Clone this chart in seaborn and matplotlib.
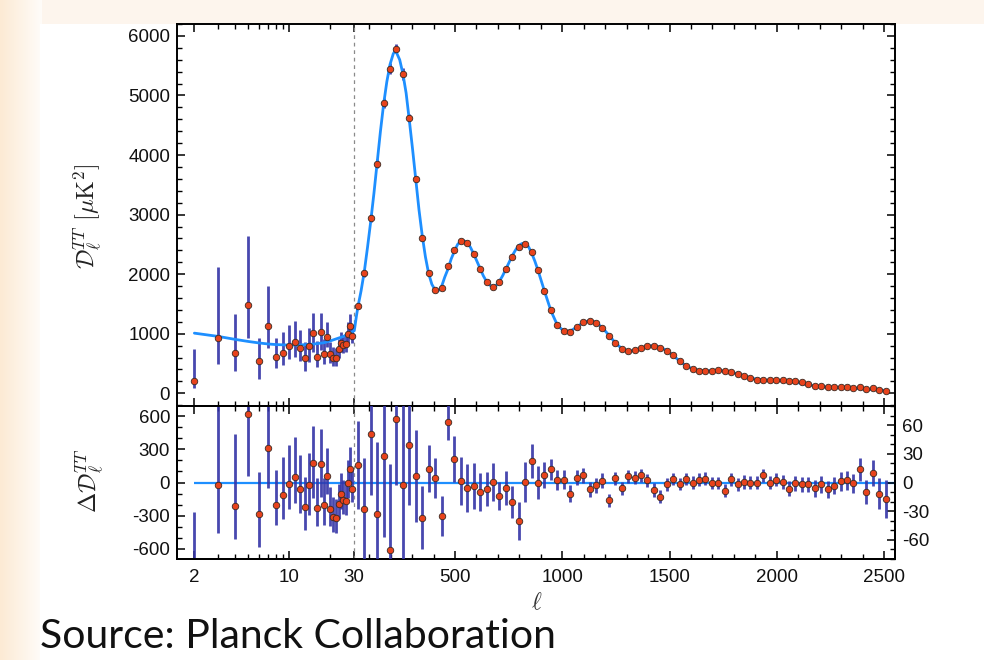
import numpy as np
import matplotlib
matplotlib.use("Agg")
import matplotlib.pyplot as plt
from matplotlib.patches import Rectangle
from matplotlib.ticker import FixedLocator, MultipleLocator
import seaborn as sns

# ---------------- data ----------------
# low-ell individual multipoles
ell_low = [2, 3, 4, 5, 6, 7, 8, 9, 10, 11, 12, 13, 14, 15, 16, 17, 18, 19,
           20, 21, 22, 23, 24, 25, 26, 27, 28, 29]
dl_low = [212, 923, 677, 1483, 542, 1136, 604, 682, 794, 856, 756, 588, 800,
          1013, 610, 1029, 665, 945, 655, 593, 593, 739, 839, 806, 823, 991,
          1136, 967]
err_low_minus = [128, 436, 297, 560, 300, 370, 184, 212, 223, 241, 214, 208,
                 269, 314, 163, 302, 180, 170, 150, 140, 140, 140, 140, 130,
                 130, 140, 140, 120]
err_low_plus = [532, 1203, 655, 1158, 380, 666, 319, 347, 353, 363, 307, 273,
                291, 341, 274, 319, 240, 250, 200, 180, 170, 180, 190, 180,
                180, 200, 200, 180]
res_low = [-798, -27, -217, 620, -287, 317, -202, -118, -15, 52, -60, -227,
           -27, 176, -232, 167, -202, 61, -245, -311, -323, -196, -105, -160,
           -166, 0, 124, -57]

# high-ell binned data (bin width 30)
ell_high = [47, 77, 107, 137, 167, 197, 227, 257, 287, 317, 347, 377, 407,
            437, 467, 497, 527, 557, 587, 617, 647, 677, 707, 737, 767, 797,
            827, 857, 887, 917, 947, 977, 1007, 1037, 1067, 1097, 1127, 1157,
            1187, 1217, 1247, 1277, 1307, 1337, 1367, 1397, 1427, 1457, 1487,
            1517, 1547, 1577, 1607, 1637, 1667, 1697, 1727, 1757, 1787, 1817,
            1847, 1877, 1907, 1937, 1967, 1997, 2027, 2057, 2087, 2117, 2147,
            2177, 2207, 2237, 2267, 2297, 2327, 2357, 2387, 2417, 2447, 2477,
            2507]
dl_high = [1466, 2015, 2939, 3851, 4880, 5451, 5787, 5362, 4618, 3593, 2613,
           2015, 1735, 1773, 2143, 2406, 2557, 2529, 2339, 2082, 1869, 1790,
           1869, 2082, 2294, 2450, 2510, 2378, 2062, 1723, 1399, 1147, 1046,
           1035, 1118, 1197, 1214, 1186, 1102, 957, 850, 744, 716, 722, 766,
           800, 800, 766, 716, 638, 537, 458, 403, 380, 380, 380, 386, 369,
           358, 324, 285, 252, 229, 229, 218, 218, 218, 207, 202, 185, 156,
           128, 118, 101, 101, 101, 101, 94, 106, 72, 84, 55, 39]
res_high = [18.2, -28.1, 50.8, -33.4, 28, -71.3, 66.6, -2.5, 39.3, 6.9, -36.9,
            14.7, 4.9, -34.8, 63.8, 24.5, 1.7, -6, -3.5, -9.8, -6.7, 0.3,
            -14.1, -6, -20.5, -40.5, 0.9, 22.8, 0, 7.7, 14, 2.4, 3.1, -12,
            5.1, 7.5, -7, -2.9, 2, -18.6, 4.5, -6, 6.6, 5, 7.5, 2.4, -8, -15,
            -2, 3.4, -1.9, 3.4, 0, 3, 4.1, -0.3, -0.3, -8.7, 3.4, -1.9, 0.6,
            -0.3, -0.3, 7.7, -0.3, 3.1, 0.6, -6.7, -1, -2, -2, -6.3, -2, -7,
            -3.5, 1.4, 2.4, -1, 14, -9.8, 10, -11.6, -17.5]
err_high = [46, 54, 64, 76, 85, 91, 69, 95, 63, 48, 33, 25, 21, 21, 19, 24,
            25, 25, 24, 20, 18, 20, 15, 18, 17, 20, 21, 18, 17, 14, 11, 10.5,
            10, 9, 8, 8, 8, 8, 8, 7, 7, 7, 7, 7, 7, 7, 7, 7, 6.5, 6.5, 6.5,
            6.5, 6.5, 6.5, 6.5, 6.5, 6.5, 7, 7, 7, 7, 7, 7, 7, 7, 7, 7, 8, 8,
            8, 8, 9, 9, 9, 9, 10, 10, 10, 12, 12.5, 14, 16, 20]

# best-fit theory curve
ell_th = [2, 3, 4, 5, 6, 7, 8, 10, 12, 15, 18, 20, 25, 30, 32, 40, 47, 62,
          77, 92, 107, 122, 137, 152, 167, 182, 197, 212, 220, 227, 242, 257,
          272, 287, 302, 317, 332, 347, 362, 377, 392, 407, 422, 437, 452,
          467, 482, 497, 512, 527, 542, 557, 572, 587, 602, 617, 632, 647,
          662, 677, 692, 707, 722, 737, 752, 767, 782, 797, 812, 827, 842,
          857, 872, 887, 917, 947, 977, 1007, 1037, 1067, 1097, 1127, 1157,
          1187, 1217, 1247, 1277, 1307, 1337, 1367, 1397, 1427, 1457, 1487,
          1517, 1547, 1577, 1607, 1637, 1667, 1697, 1727, 1757, 1787, 1817,
          1847, 1877, 1907, 1937, 1967, 1997, 2027, 2057, 2087, 2117, 2147,
          2177, 2207, 2237, 2267, 2297, 2327, 2357, 2387, 2417, 2447, 2477,
          2507]
dl_th = [1010, 955, 905, 870, 845, 828, 818, 810, 812, 826, 850, 880, 955,
         1050, 1090, 1290, 1448, 1720, 2043, 2450, 2888, 3360, 3884, 4390,
         4852, 5230, 5522, 5700, 5745, 5720, 5600, 5365, 5040, 4580, 4100,
         3586, 3080, 2650, 2290, 2010, 1830, 1735, 1722, 1790, 1950, 2085,
         2255, 2385, 2500, 2555, 2560, 2530, 2450, 2340, 2218, 2092, 1972,
         1876, 1815, 1790, 1812, 1880, 1975, 2085, 2200, 2312, 2405, 2480,
         2515, 2505, 2465, 2355, 2220, 2062, 1715, 1385, 1145, 1043, 1045,
         1110, 1190, 1222, 1192, 1100, 978, 848, 752, 712, 717, 758, 792,
         800, 775, 718, 636, 540, 462, 410, 385, 378, 380, 383, 375, 355,
         325, 290, 258, 236, 222, 217, 214, 209, 200, 185, 165, 143, 125,
         112, 104, 100, 96, 92, 86, 78, 70, 62, 55, 48]

x_major = [2, 10, 30, 500, 1000, 1500, 2000, 2500]
x_minor = [3, 4, 5, 6, 7, 8, 9, 20] + [100, 200, 300, 400] + \
          [600, 700, 800, 900, 1100, 1200, 1300, 1400, 1600, 1700, 1800,
           1900, 2100, 2200, 2300, 2400]

# ---------------- styling ----------------
RED = "#e8431c"
EDGE = "#3b2a22"
BAR = "#3434a6"
BLUE = "#1e8fff"

sns.set_theme(style="white")
plt.rcParams["font.family"] = ["Liberation Sans", "DejaVu Sans"]
plt.rcParams["mathtext.fontset"] = "cm"
plt.rcParams["axes.unicode_minus"] = False

fig = plt.figure(figsize=(9.84, 6.6), dpi=100)
fig.patch.set_facecolor("#fdf5ed")

# left peach gradient strip + white panel
gax = fig.add_axes([0, 0, 42 / 984, 1], zorder=-5)
grad = np.linspace(0, 1, 64)[None, :]
c0 = np.array([252, 234, 212]) / 255
c1 = np.array([255, 252, 249]) / 255
img = c0[None, None, :] * (1 - grad[..., None]) + c1[None, None, :] * grad[..., None]
gax.imshow(img, aspect="auto", extent=[0, 1, 0, 1])
gax.set_axis_off()
fig.patches.append(Rectangle((40 / 984, 0), 1, 636 / 660, transform=fig.transFigure,
                             facecolor="white", edgecolor="none", zorder=-4))


# hybrid log / linear ell axis
K_LOG = 135.9
K_LIN = 0.2145


def fwd(l):
    l = np.asarray(l, dtype=float)
    lc = np.clip(l, 1e-6, None)
    return np.where(l < 30, K_LOG * np.log10(lc / 30.0), K_LIN * (l - 30.0))


def inv(u):
    u = np.asarray(u, dtype=float)
    return np.where(u < 0, 30.0 * 10 ** (np.clip(u, -1e4, 0) / K_LOG), 30.0 + u / K_LIN)


L = 177 / 984
W = 718 / 984
ax1 = fig.add_axes([L, 1 - 406 / 660, W, 382 / 660])
ax2 = fig.add_axes([L, 1 - 559 / 660, W, 153 / 660], sharex=ax1)
for a in (ax1, ax2):
    a.set_facecolor("white")

# ---- top panel ----
ax1.axvline(30, color="#8a8a8a", lw=0.9, ls=(0, (3, 3)), zorder=1)
ax1.errorbar(ell_low, dl_low, yerr=[err_low_minus, err_low_plus], fmt="none",
             ecolor=BAR, elinewidth=2.0, alpha=0.9, zorder=2)
ax1.errorbar(ell_high, dl_high, yerr=err_high, fmt="none",
             ecolor=BAR, elinewidth=2.0, alpha=0.9, zorder=2)
sns.lineplot(x=ell_th, y=dl_th, ax=ax1, color=BLUE, linewidth=2.0,
             estimator=None, sort=False, zorder=3)
sns.scatterplot(x=ell_low + ell_high, y=dl_low + dl_high, ax=ax1, s=22,
                color=RED, edgecolor=EDGE, linewidth=0.6, zorder=5)

# ---- bottom panel ----
ax2r = ax2.twinx()
ax2.axvline(30, color="#8a8a8a", lw=0.9, ls=(0, (3, 3)), zorder=1)
ax2.hlines(0, ell_low[0], 2600, color=BLUE, lw=1.6, zorder=2)
ax2.errorbar(ell_low, res_low, yerr=[err_low_minus, err_low_plus], fmt="none",
             ecolor=BAR, elinewidth=2.0, alpha=0.9, zorder=3)
sns.scatterplot(x=ell_low, y=res_low, ax=ax2, s=22, color=RED, edgecolor=EDGE,
                linewidth=0.6, zorder=5)
ax2r.errorbar(ell_high, res_high, yerr=err_high, fmt="none",
              ecolor=BAR, elinewidth=2.0, alpha=0.9, zorder=3)
sns.scatterplot(x=ell_high, y=res_high, ax=ax2r, s=22, color=RED,
                edgecolor=EDGE, linewidth=0.6, zorder=5)

# scales & limits
ax1.set_xscale("function", functions=(fwd, inv))
ax1.set_xlim(1.49, 2551)
ax1.set_ylim(-213, 6200)
ax2.set_ylim(-695, 695)
ax2r.set_ylim(-80.5, 80.5)

ax1.xaxis.set_major_locator(FixedLocator(x_major))
ax1.xaxis.set_minor_locator(FixedLocator(x_minor))
ax2.set_xticks(x_major)
ax2.set_xticklabels([str(v) for v in x_major])

ax1.yaxis.set_major_locator(MultipleLocator(1000))
ax1.yaxis.set_minor_locator(MultipleLocator(200))
ax2.yaxis.set_major_locator(FixedLocator([-600, -300, 0, 300, 600]))
ax2.yaxis.set_minor_locator(MultipleLocator(100))
ax2r.yaxis.set_major_locator(FixedLocator([-60, -30, 0, 30, 60]))
ax2r.yaxis.set_minor_locator(MultipleLocator(10))

tk = dict(direction="in", length=6.0, width=1.1, color="black", labelsize=13.5,
          labelcolor="#111111")
tkm = dict(direction="in", length=3.3, width=1.0, color="black")
ax1.tick_params(axis="both", which="major", top=True, bottom=True, left=True,
                right=True, labelbottom=False, pad=5, **tk)
ax1.tick_params(axis="both", which="minor", top=True, bottom=True, left=True,
                right=True, **tkm)
ax2.tick_params(axis="x", which="major", top=True, bottom=True, pad=7, **tk)
ax2.tick_params(axis="x", which="minor", top=True, bottom=True, **tkm)
ax2.tick_params(axis="y", which="major", left=True, right=False, pad=5, **tk)
ax2.tick_params(axis="y", which="minor", left=True, right=False, **tkm)
ax2r.tick_params(axis="y", which="major", right=True, left=False, pad=5, **tk)
ax2r.tick_params(axis="y", which="minor", right=True, left=False, **tkm)

for a in (ax1, ax2, ax2r):
    for s in a.spines.values():
        s.set_color("black")
        s.set_linewidth(1.4)
    a.set_xlabel("")
    a.set_ylabel("")

# axis titles
fig.text(88 / 984, 1 - 216 / 660, r"$\mathcal{D}_\ell^{TT}\ [\mu\mathrm{K}^2]$",
         rotation=90, ha="center", va="center", fontsize=17.5, color="#222222")
fig.text(90 / 984, 1 - 481 / 660, r"$\Delta\mathcal{D}_\ell^{TT}$",
         rotation=90, ha="center", va="center", fontsize=17.5, color="#222222")
fig.text(537 / 984, 1 - 603 / 660, r"$\ell$", ha="center", va="center",
         fontsize=17, color="#333333")

fig.text(40 / 984, 1 - 637 / 660, "Source: Planck Collaboration",
         family=["Lato", "DejaVu Sans"], fontsize=29.5, ha="left", va="center",
         color="#111111")

fig.savefig("out.png", dpi=100, facecolor=fig.get_facecolor())
